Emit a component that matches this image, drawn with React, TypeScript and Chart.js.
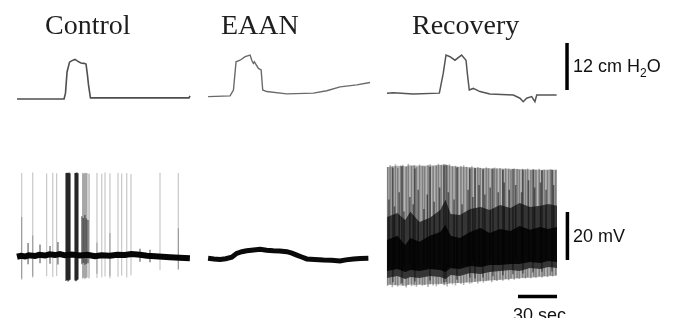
import React, { useEffect, useRef } from "react";
import { Chart, registerables } from "chart.js";

Chart.register(...registerables);

// ---- layout of the shared time axis (s) ----
const panelNames = ["Control", "EAAN", "Recovery"];
const panelStarts = [0, 147, 284.6];
const timeMin = -13.08;
const timeMax = 507.7;
const pressureMin = -55.87;
const pressureMax = 25.26;
const voltageMin = -25.42;
const voltageMax = 107.08;

// ---- airway pressure (cm H2O, relative to control baseline) ----
const controlPressureTime = [0, 36.2, 37.3, 38.5, 40.4, 42.3, 44.6, 46.9, 49.2, 51.5, 53.1, 54.2, 55, 55.8, 56.5, 57.7, 132.3, 133.1];
const controlPressureValue = [0, 0, 1.5, 6.9, 9.4, 9.8, 10.1, 9.6, 9.2, 9.1, 8.9, 6.1, 3.6, 1.8, 0.3, 0.3, 0.3, 0.8];

const eaanPressureTime = [0, 16.9, 19.5, 21.5, 24.6, 28.5, 32.3, 33.6, 34.8, 35.6, 38.7, 40.8, 42, 45.1, 60.5, 81, 91.3, 101.5, 114.4, 124.6];
const eaanPressureValue = [0.6, 0.8, 2.3, 9.5, 9.9, 10.8, 11.2, 9.9, 9.1, 9.5, 7.8, 7.4, 2.3, 1.9, 1.3, 1.5, 2.1, 3.1, 3.6, 4.2];

const recoveryPressureTime = [0, 4.9, 20.2, 40.3, 43.3, 45.4, 48.5, 52.3, 57.4, 60.8, 61.8, 63.3, 66.4, 71.5, 79.2, 97.2, 102.3, 104.8, 107.4, 111.3, 113.8, 115.2, 130.5];
const recoveryPressureValue = [1.5, 1.6, 1.3, 1.5, 6.6, 11.2, 10.8, 9.9, 11.2, 9.9, 6.6, 2.3, 2.7, 1.9, 1.3, 1.0, 0.2, -0.7, 0.2, 0.6, -0.7, 1.0, 1.0];

// ---- membrane potential (mV, relative to control baseline) ----
const controlBaseTime = [0, 3, 6.2, 9, 13.8, 17, 21.5, 25, 29.2, 33, 36.9, 42, 48.5, 54, 60, 65, 71.5, 77, 83, 88, 94.6, 100, 106.2, 112, 117.7, 125, 133];
const controlBaseValue = [0.1, 0.5, 0.2, 0.7, 0.4, 0.9, 0.6, 1.1, 0.8, 1.2, 0.7, 1.0, 0.6, 0.9, 0.3, 0.7, 0.5, 0.9, 0.8, 1.2, 0.9, 0.5, 0.3, 0.1, -0.1, -0.3, -0.5];

const controlSpikeTime = [3.6, 12.1, 22.8, 27.5, 30.5, 61.5, 65.2, 67.7, 71.5, 77.7, 80.5, 84.4, 87.7, 110, 124.1];
const controlSpikeTop = [35.0, 35.2, 34.8, 35.1, 34.9, 35.0, 34.7, 35.2, 34.9, 35.1, 34.8, 35.0, 34.6, 35.1, 35.0];
const controlSpikeBottom = [-9.5, -8.6, -8.0, -8.3, -7.9, -8.8, -8.4, -8.1, -8.9, -8.2, -7.8, -8.5, -7.6, -5.4, -5.4];

const controlSpikeLowerTime = [3.6, 12.1, 61.5, 71.5, 124.1];
const controlSpikeLowerTop = [16.7, 9.0, 6.0, 10.0, 12.0];
const controlSpikeLowerBottom = [-9.0, -8.0, -7.0, -8.0, -5.0];

const controlBurstTime = [37.7, 38.4, 39.2, 40.0, 40.8, 44.6, 45.4, 46.2, 46.9];
const controlBurstTop = [35.0, 35.1, 35.0, 35.2, 34.9, 35.0, 35.1, 35.2, 34.9];
const controlBurstBottom = [-10.0, -9.6, -10.2, -9.8, -9.5, -9.8, -10.1, -9.7, -9.4];

const controlClusterTime = [50.5, 51.4, 52.3, 53.1, 53.8, 55.4];
const controlClusterTop = [35.0, 34.8, 35.1, 34.9, 35.0, 34.7];
const controlClusterBottom = [-9.0, -8.6, -9.2, -8.8, -8.5, -8.9];

const controlClusterLowerTime = [49.8, 51.0, 52.2, 53.4, 54.6];
const controlClusterLowerTop = [17.0, 16.2, 17.5, 16.0, 15.4];
const controlClusterLowerBottom = [-3.0, -2.5, -3.2, -2.8, -2.6];

const controlSmallTime = [8.5, 17.7, 25.4, 31.5, 94.6, 102.3];
const controlSmallTop = [5.8, 5.2, 4.6, 6.2, 3.4, 3.0];
const controlSmallBottom = [-3.0, -2.6, -2.8, -3.1, -2.0, -2.2];

const eaanVoltageTime = [0, 4.5, 9.2, 13.5, 18.2, 22, 26, 29.7, 35, 40, 45, 50.2, 55, 60.5, 64.5, 68.2, 72, 75.9, 82, 88.7, 95, 101.5, 106, 111.8, 117, 123.3];
const eaanVoltageValue = [-0.5, -0.8, -1.0, -0.7, -0.1, 1.5, 2.2, 2.6, 2.9, 3.2, 2.8, 2.6, 2.5, 2.2, 1.6, 0.8, 0.0, -0.8, -1.0, -1.25, -1.4, -1.7, -1.2, -0.8, -0.6, -0.5];

const recoverySpikeTime = [0.5, 2.4, 4.1, 6.5, 8.3, 10.6, 12.2, 14.8, 16.4, 18.9, 21.0, 22.7, 25.1, 27.3, 29.0, 31.6, 33.2, 35.5, 37.9, 39.6, 41.8, 44.0, 46.3, 48.1, 50.4, 52.7, 54.5, 56.9, 59.0, 61.2, 63.6, 65.3, 67.8, 69.9, 71.7, 74.2, 76.4, 78.1, 80.6, 82.8, 84.5, 87.0, 89.1, 91.3, 93.6, 95.4, 97.9, 100.1, 101.8, 104.3, 106.5, 108.2, 110.7, 112.9, 114.6, 117.1, 119.3, 121.0, 123.5, 125.7, 127.4, 129.8];
const recoverySpikeTop = [37.5, 38.3, 37.9, 38.6, 37.2, 38.1, 38.4, 37.6, 38.8, 37.9, 38.2, 37.4, 38.5, 38.0, 37.7, 38.3, 38.6, 37.8, 38.1, 38.9, 38.4, 37.9, 38.2, 38.6, 37.8, 38.0, 37.5, 37.9, 38.2, 37.6, 37.3, 37.8, 37.1, 37.5, 37.2, 36.8, 37.4, 37.0, 36.7, 37.3, 36.9, 37.1, 36.6, 37.0, 36.8, 36.4, 36.9, 36.7, 36.3, 36.8, 36.5, 36.9, 36.2, 36.6, 36.4, 36.8, 36.1, 36.5, 36.3, 36.7, 36.2, 36.4];
const recoverySpikeBottom = [-12.1, -11.5, -12.6, -11.8, -12.3, -11.2, -12.0, -12.7, -11.6, -12.2, -11.9, -12.4, -11.3, -12.0, -11.7, -12.5, -11.4, -11.9, -12.2, -11.6, -11.1, -11.8, -12.3, -11.0, -11.5, -11.9, -10.8, -11.3, -11.7, -10.6, -11.2, -10.9, -10.4, -11.0, -10.2, -10.7, -10.1, -9.8, -10.5, -9.6, -10.0, -9.4, -9.9, -9.2, -9.7, -9.0, -9.5, -8.8, -9.2, -8.6, -9.0, -8.4, -8.9, -8.2, -8.6, -8.0, -8.5, -7.9, -8.3, -7.7, -8.1, -7.6];

const recoveryDarkTime = [4.6, 11.5, 21.5, 33.1, 43.8, 45.4, 53.8, 63.8, 67.7, 73.8, 81.5, 89.2, 96.9, 104.6, 112.3, 119.2, 126.9];
const recoveryDarkTop = [37.2, 37.8, 36.9, 37.5, 38.6, 38.4, 37.3, 36.8, 37.0, 36.6, 36.9, 36.4, 36.7, 36.2, 36.5, 36.1, 36.3];
const recoveryDarkBottom = [-10.5, -10.9, -10.2, -9.8, -10.6, -10.4, -9.5, -8.7, -8.9, -8.5, -8.0, -7.6, -7.2, -6.9, -6.5, -6.2, -6.0];

const recoveryMidTime = [1.5, 5.8, 9.4, 13.1, 17.6, 20.2, 24.0, 28.4, 31.0, 36.3, 40.5, 47.2, 51.6, 57.8, 62.4, 66.1, 70.8, 75.3, 79.4, 85.6, 90.2, 94.1, 99.0, 103.5, 108.9, 113.6, 118.1, 122.4, 128.2];
const recoveryMidTop = [24, 21, 27, 19, 25, 22, 28, 20, 26, 23, 29, 27, 24, 22, 28, 25, 30, 26, 29, 27, 31, 28, 30, 27, 32, 29, 31, 28, 30];
const recoveryMidBottom = [-4, -3, -5, -4, -3, -5, -4, -3, -4, -5, -3, -4, -5, -3, -4, -2, -3, -4, -2, -3, -2, -3, -1, -2, -2, -1, -2, -1, -1];

const recoveryBandTime = [0, 8, 14, 18, 25, 33, 41, 45, 49, 56, 64, 72, 79, 87, 95, 102, 110, 118, 124, 130.8];
const recoveryEnvelopeTop = [37.4, 38.0, 37.8, 38.2, 38.0, 38.1, 38.3, 38.5, 37.9, 37.6, 37.4, 37.1, 37.0, 36.9, 36.8, 36.7, 36.5, 36.4, 36.3, 36.3];
const recoveryEnvelopeBottom = [-11.6, -11.8, -12.0, -11.5, -11.7, -11.4, -11.2, -11.5, -10.9, -10.8, -10.5, -10.1, -9.8, -9.6, -9.2, -8.9, -8.6, -8.3, -8.0, -7.8];
const recoveryBandOuterTop = [16.7, 18.3, 15.4, 18.8, 14.6, 16.3, 19.6, 23.8, 17.9, 17.5, 20.0, 20.8, 19.6, 21.7, 20.4, 22.5, 20.8, 21.3, 22.1, 21.3];
const recoveryBandOuterBottom = [-8.8, -7.9, -9.2, -8.3, -8.8, -7.9, -8.3, -9.2, -7.5, -7.9, -6.7, -7.1, -6.3, -5.8, -5.4, -5.8, -4.6, -5.0, -4.2, -4.6];
const recoveryBandCoreTop = [7.1, 8.8, 5.0, 7.9, 6.3, 8.8, 10.4, 13.3, 8.8, 7.9, 10.4, 12.1, 10.0, 11.7, 10.8, 12.9, 11.3, 12.5, 11.7, 12.5];
const recoveryBandCoreBottom = [-5.8, -5.0, -6.3, -5.4, -5.8, -5.0, -5.4, -6.3, -4.6, -5.0, -3.8, -4.2, -3.3, -3.3, -2.9, -2.9, -2.1, -2.5, -1.7, -2.1];

// ---- calibration bars (drawn in the Recovery panel's time) ----
const pressureBarTime = 138.5;
const pressureBarRange = [2.3, 14.3]; // 12 cm H2O
const voltageBarTime = 138.8;
const voltageBarRange = [-1.25, 18.75]; // 20 mV
const timeBarRange = [100.8, 130.8]; // 30 sec
const timeBarLevel = -16.5;

const at = (panel: number, t: number) => panelStarts[panel] + t;
const trace = (panel: number, ts: number[], vs: number[]) => ts.map((t, i) => ({ x: at(panel, t), y: vs[i] }));
const segments = (panel: number, ts: number[], tops: number[], bottoms: number[]) =>
  ts.flatMap((t, i) => [
    { x: at(panel, t), y: bottoms[i] },
    { x: at(panel, t), y: tops[i] },
    { x: at(panel, t), y: null as any },
  ]);

export default function App() {
  const canvasRef = useRef<HTMLCanvasElement | null>(null);

  useEffect(() => {
    const canvas = canvasRef.current;
    if (!canvas) return;

    const line = (data: any[], axis: string, color: string, width: number, order: number, extra: any = {}) => ({
      type: "line",
      data,
      yAxisID: axis,
      borderColor: color,
      backgroundColor: color,
      borderWidth: width,
      pointRadius: 0,
      tension: 0,
      fill: false,
      spanGaps: false,
      order,
      ...extra,
    });

    const datasets: any[] = [
      // pressure traces
      line(trace(0, controlPressureTime, controlPressureValue), "yP", "#4f4f4f", 1.6, 1),
      line(trace(1, eaanPressureTime, eaanPressureValue), "yP", "#6a6a6a", 1.4, 1),
      line(trace(2, recoveryPressureTime, recoveryPressureValue), "yP", "#555555", 1.5, 1),
      // control membrane potential
      line(segments(0, controlSpikeTime, controlSpikeTop, controlSpikeBottom), "yV", "rgba(0,0,0,0.22)", 1.2, 20),
      line(segments(0, controlSpikeLowerTime, controlSpikeLowerTop, controlSpikeLowerBottom), "yV", "rgba(0,0,0,0.25)", 1.2, 19),
      line(segments(0, controlClusterTime, controlClusterTop, controlClusterBottom), "yV", "rgba(0,0,0,0.35)", 1.2, 18),
      line(segments(0, controlClusterLowerTime, controlClusterLowerTop, controlClusterLowerBottom), "yV", "rgba(0,0,0,0.45)", 1.5, 17),
      line(segments(0, controlBurstTime, controlBurstTop, controlBurstBottom), "yV", "rgba(0,0,0,0.85)", 1.1, 16),
      line(segments(0, controlSmallTime, controlSmallTop, controlSmallBottom), "yV", "rgba(0,0,0,0.6)", 1.2, 15),
      line(trace(0, controlBaseTime, controlBaseValue), "yV", "#050505", 6, 10),
      // EAAN membrane potential
      line(trace(1, eaanVoltageTime, eaanVoltageValue), "yV", "#0a0a0a", 5, 10),
      // recovery membrane potential: grey curtain of spikes, dark band, black core
      line(trace(2, recoveryBandTime, recoveryEnvelopeTop), "yV", "rgba(0,0,0,0)", 1, 40, { fill: "+1", backgroundColor: "#b6b6b6" }),
      line(trace(2, recoveryBandTime, recoveryEnvelopeBottom), "yV", "rgba(0,0,0,0)", 1, 40),
      line(segments(2, recoverySpikeTime, recoverySpikeTop, recoverySpikeBottom), "yV", "rgba(0,0,0,0.3)", 1.6, 30),
      line(trace(2, recoveryBandTime, recoveryBandOuterTop), "yV", "rgba(0,0,0,0)", 1, 28, { fill: "+1", backgroundColor: "#353535" }),
      line(trace(2, recoveryBandTime, recoveryBandOuterBottom), "yV", "rgba(0,0,0,0)", 1, 28),
      line(trace(2, recoveryBandTime, recoveryBandCoreTop), "yV", "rgba(0,0,0,0)", 1, 27, { fill: "+1", backgroundColor: "#080808" }),
      line(trace(2, recoveryBandTime, recoveryBandCoreBottom), "yV", "rgba(0,0,0,0)", 1, 27),
      line(segments(2, recoveryMidTime, recoveryMidTop, recoveryMidBottom), "yV", "rgba(0,0,0,0.5)", 1.5, 26),
      line(segments(2, recoveryDarkTime, recoveryDarkTop, recoveryDarkBottom), "yV", "rgba(0,0,0,0.5)", 1.4, 25),
      // calibration bars
      line(
        [{ x: at(2, pressureBarTime), y: pressureBarRange[0] }, { x: at(2, pressureBarTime), y: pressureBarRange[1] }],
        "yP", "#000000", 3.5, 0
      ),
      line(
        [{ x: at(2, voltageBarTime), y: voltageBarRange[0] }, { x: at(2, voltageBarTime), y: voltageBarRange[1] }],
        "yV", "#000000", 3.5, 0
      ),
      line(
        [{ x: at(2, timeBarRange[0]), y: timeBarLevel }, { x: at(2, timeBarRange[1]), y: timeBarLevel }],
        "yV", "#000000", 3.5, 0
      ),
    ];

    const chart = new Chart(canvas, {
      type: "line",
      data: { datasets },
      options: {
        responsive: false,
        devicePixelRatio: 1,
        animation: false,
        events: [],
        layout: { padding: 0 },
        plugins: { legend: { display: false }, tooltip: { enabled: false }, title: { display: false } },
        scales: {
          x: { type: "linear", min: timeMin, max: timeMax, display: false },
          yP: { type: "linear", min: pressureMin, max: pressureMax, display: false },
          yV: { type: "linear", min: voltageMin, max: voltageMax, display: false },
        },
      },
    } as any);

    return () => chart.destroy();
  }, []);

  const serif = '"Liberation Serif", "Times New Roman", serif';
  const sans = '"Liberation Sans", Arial, sans-serif';
  const titleLefts = [45, 221, 412];

  return (
    <div style={{ position: "absolute", left: 0, top: 0, width: 677, height: 318, background: "#ffffff", overflow: "hidden" }}>
      <canvas ref={canvasRef} width={677} height={318} style={{ display: "block", width: 677, height: 318 }} />
      {panelNames.map((name, i) => (
        <div
          key={name}
          style={{ position: "absolute", left: titleLefts[i], top: 10.6, fontFamily: serif, fontSize: 28, lineHeight: "28px", color: "#1e1e1e", whiteSpace: "nowrap" }}
        >
          {name}
        </div>
      ))}
      <div style={{ position: "absolute", left: 573, top: 57, fontFamily: sans, fontSize: 18, lineHeight: "18px", color: "#111", whiteSpace: "nowrap" }}>
        12 cm H<sub style={{ fontSize: 12, lineHeight: 0, verticalAlign: "sub" }}>2</sub>O
      </div>
      <div style={{ position: "absolute", left: 573, top: 227, fontFamily: sans, fontSize: 18, lineHeight: "18px", color: "#111", whiteSpace: "nowrap" }}>
        20 mV
      </div>
      <div style={{ position: "absolute", left: 513, top: 306, fontFamily: sans, fontSize: 18, lineHeight: "18px", color: "#111", whiteSpace: "nowrap" }}>
        30 sec
      </div>
    </div>
  );
}
